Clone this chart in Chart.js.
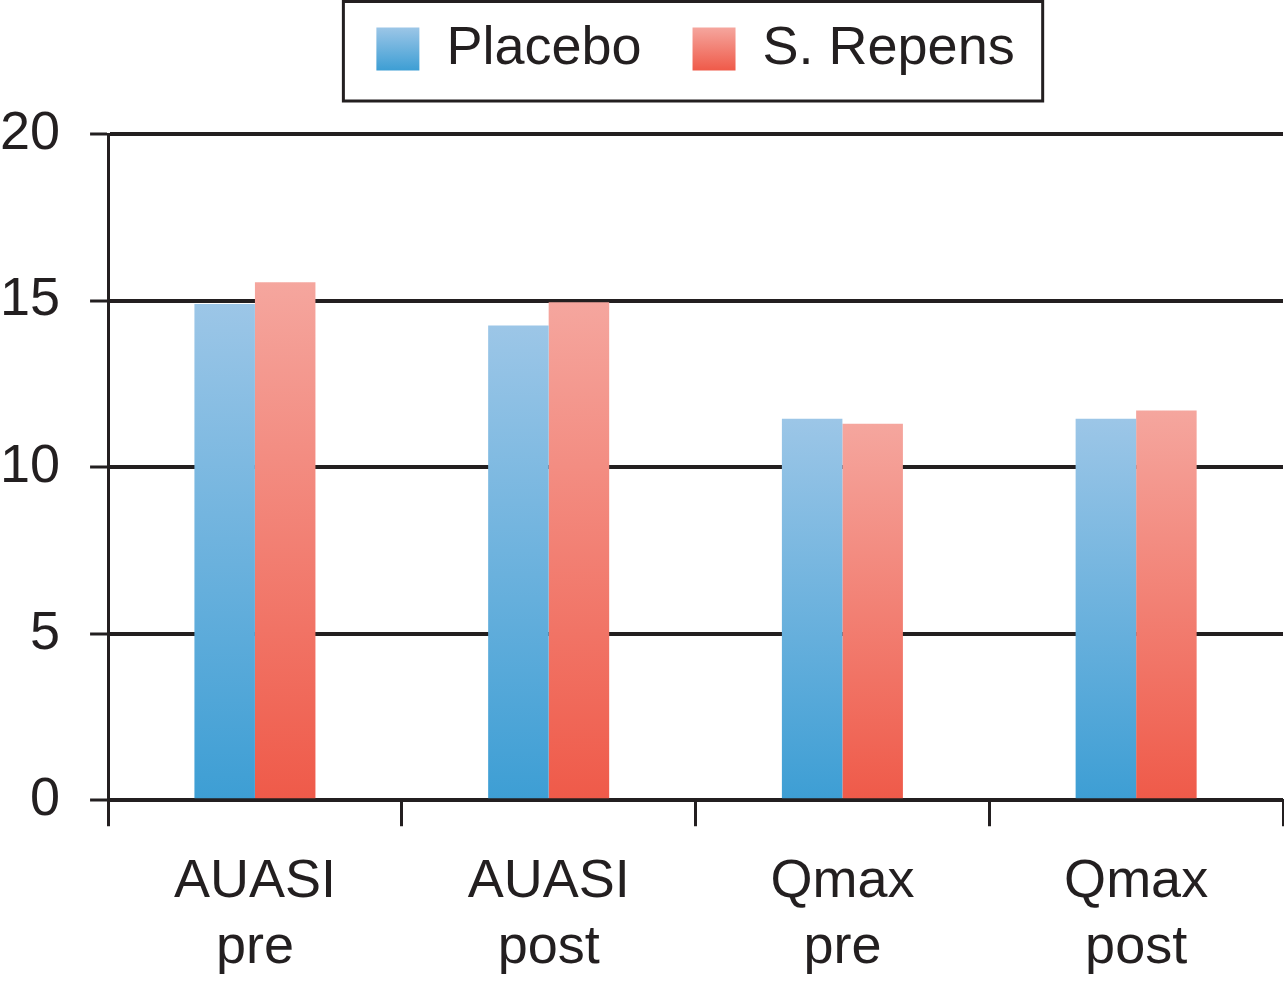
<!DOCTYPE html>
<html>
<head>
<meta charset="utf-8">
<script src="https://cdn.jsdelivr.net/npm/chart.js@4/dist/chart.umd.min.js"></script>
<style>
  html, body { margin: 0; padding: 0; background: #fff; }
  #chart { display: block; }
</style>
</head>
<body>
<canvas id="chart" width="1284" height="991"></canvas>
<script>
// Values
const categories = [['AUASI', 'pre'], ['AUASI', 'post'], ['Qmax', 'pre'], ['Qmax', 'post']];
const placebo = [14.9, 14.25, 11.45, 11.45];
const sRepens = [15.55, 14.95, 11.3, 11.7];
const yTicks = [0, 5, 10, 15, 20];

const INK = '#231f20';
const FONT = '"Liberation Sans", Arial, Helvetica, sans-serif';
const blue = { top: '#9cc6e7', bottom: '#3d9ed4' };
const red = { top: '#f5a69e', bottom: '#ef5a49' };

// vertical gradient per bar: light at the top of the bar, saturated at the base
function barGradient(ctx, pal) {
    const chart = ctx.chart;
    const y = chart.scales && chart.scales.y;
    if (ctx.type !== 'data' || !y) return pal.bottom;
    const y0 = y.getPixelForValue(0);
    const y1 = y.getPixelForValue(ctx.raw);
    if (!isFinite(y0) || !isFinite(y1) || y0 === y1) return pal.bottom;
    const g = chart.ctx.createLinearGradient(0, y1, 0, y0);
    g.addColorStop(0, pal.top);
    g.addColorStop(1, pal.bottom);
    return g;
}

// legend: gradient swatches + a framed box around it
const legendFrame = {
    id: 'legendFrame',
    beforeDraw(chart) {
        const lg = chart.legend;
        if (!lg || !lg.legendHitBoxes) return;
        const pals = [blue, red];
        lg.legendItems.forEach((it, i) => {
            const hb = lg.legendHitBoxes[i];
            const top = hb.top + 5.5;
            const g = chart.ctx.createLinearGradient(0, top, 0, top + 43);
            g.addColorStop(0, pals[i].top);
            g.addColorStop(1, pals[i].bottom);
            it.fillStyle = g;
            it.lineWidth = 0;
            it.strokeStyle = 'rgba(0,0,0,0)';
        });
    },
    afterDraw(chart) {
        const hbs = chart.legend && chart.legend.legendHitBoxes;
        if (!hbs || !hbs.length) return;
        const first = hbs[0], last = hbs[hbs.length - 1];
        const c = chart.ctx;
        c.save();
        c.strokeStyle = INK;
        c.lineWidth = 3;
        const left = first.left - 33, right = last.left + last.width + 28;
        const top = first.top - 20.5, bottom = first.top + first.height + 25;
        c.strokeRect(left, top, right - left, bottom - top);
        c.restore();
    },
};

// push the plot area down below the legend frame
const legendSpacer = {
    id: 'legendSpacer',
    beforeInit(chart) {
        const fit = chart.legend.fit;
        chart.legend.fit = function () {
            fit.bind(chart.legend)();
            this.height += 48;
        };
    },
};

new Chart(document.getElementById('chart'), {
    type: 'bar',
    data: {
        labels: categories,
        datasets: [
            { label: 'Placebo', data: placebo, backgroundColor: ctx => barGradient(ctx, blue) },
            { label: 'S. Repens', data: sRepens, backgroundColor: ctx => barGradient(ctx, red) },
        ],
    },
    options: {
        responsive: false, animation: false, devicePixelRatio: 1,
        layout: { padding: { top: -29, left: -30, right: 1, bottom: -13 } },
        datasets: { bar: { barPercentage: 1, categoryPercentage: 0.412, borderWidth: 0 } },
        plugins: {
            tooltip: { enabled: false },
            legend: {
                position: 'top', align: 'center', fullSize: false,
                labels: {
                    boxWidth: 43, boxHeight: 43, padding: 51,
                    color: INK, font: { family: FONT, size: 54 },
                },
            },
        },
        scales: {
            x: {
                grid: { offset: true, drawOnChartArea: false, tickLength: 26, tickWidth: 3, color: INK },
                border: { width: 3, color: INK },
                ticks: { color: INK, padding: 23, font: { family: FONT, size: 54, lineHeight: 1.22 } },
            },
            y: {
                min: 0, max: 20,
                afterBuildTicks: s => { s.ticks = yTicks.map(v => ({ value: v })); },
                grid: { color: INK, lineWidth: 4, tickLength: 18, tickWidth: 3 },
                border: { width: 3, color: INK },
                ticks: { color: INK, padding: 30, font: { family: FONT, size: 54 } },
            },
        },
    },
    plugins: [legendFrame, legendSpacer],
});
</script>
</body>
</html>
